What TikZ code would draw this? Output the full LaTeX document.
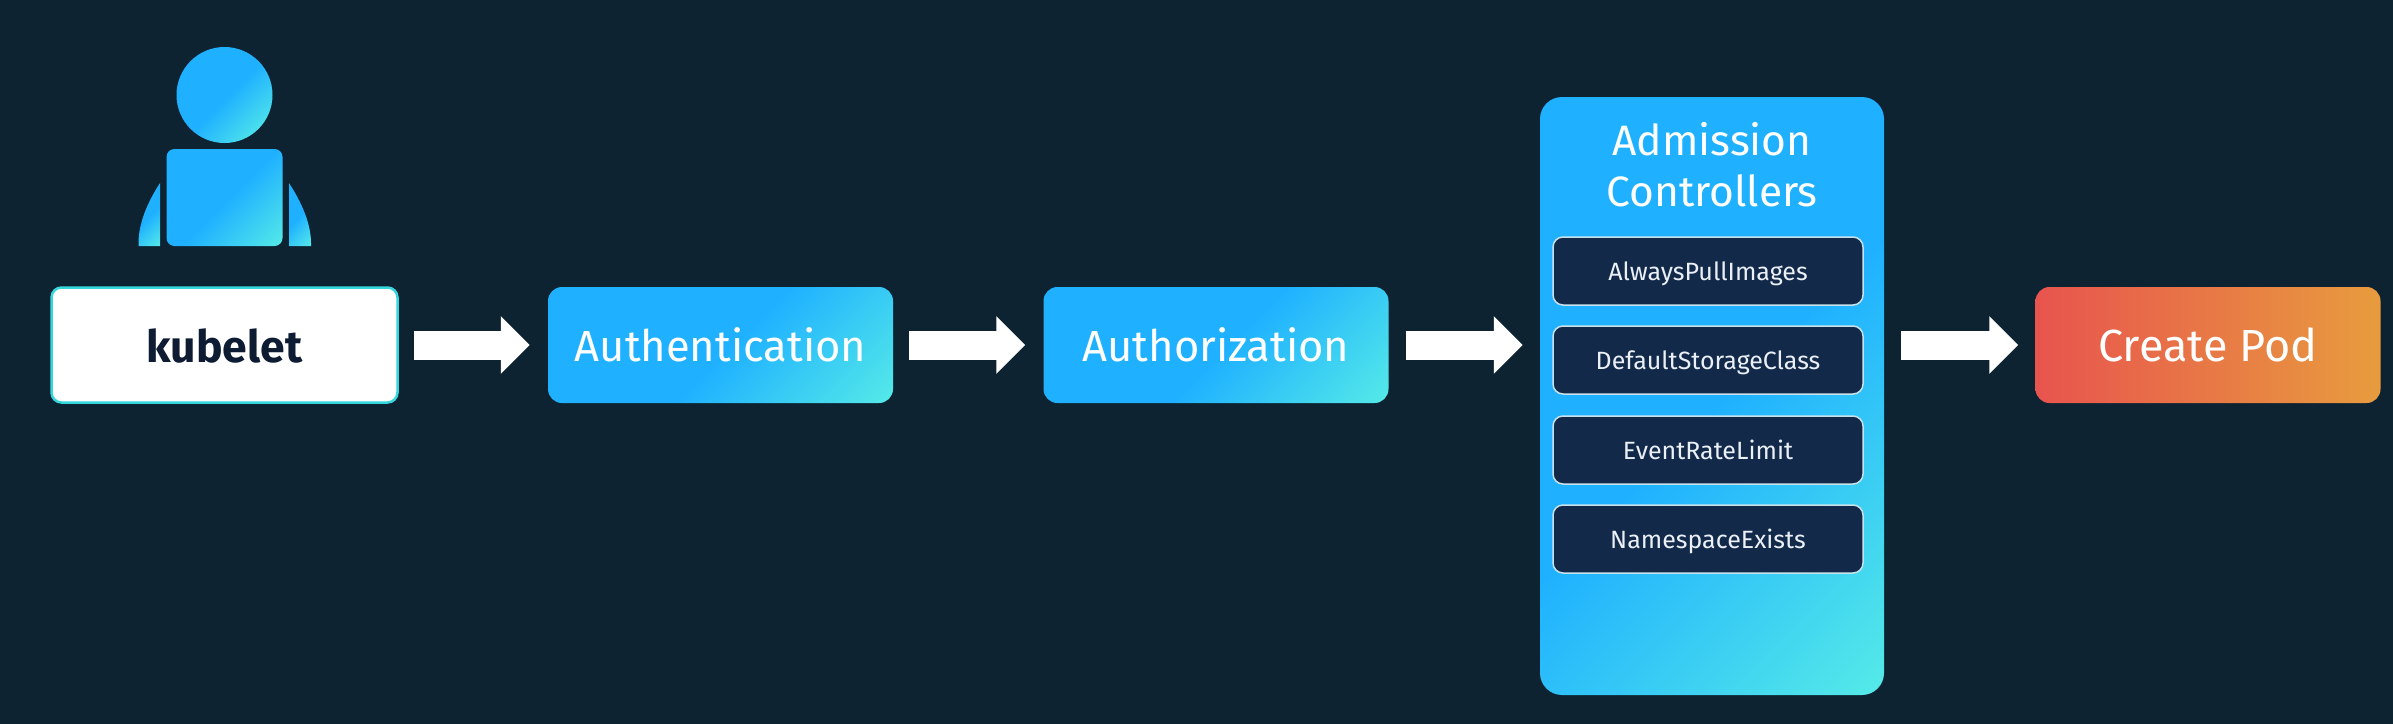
\documentclass[tikz,border=0pt]{standalone}
\usepackage{fontspec}
\setmainfont{Fira Sans}
\usetikzlibrary{arrows.meta,calc}
\definecolor{bgc}{HTML}{0D2332}
\definecolor{gA}{HTML}{1FB1FF}
\definecolor{gB}{HTML}{55EAE8}
\definecolor{inner}{HTML}{12294A}
\definecolor{innerline}{HTML}{C8E2EC}
\definecolor{ink}{HTML}{0D1B33}
\definecolor{innertxt}{HTML}{EAF0F6}
\definecolor{podA}{HTML}{E8544E}
\definecolor{podB}{HTML}{E89C3E}
\definecolor{kubeline}{HTML}{35D6DC}
\pgfdeclarehorizontalshading{bluegrad}{100bp}{color(0bp)=(gA); color(51bp)=(gA); color(67.7bp)=(gB); color(100bp)=(gB)}
\pgfdeclarehorizontalshading{admgrad}{100bp}{color(0bp)=(gA); color(50.5bp)=(gA); color(67.7bp)=(gB); color(100bp)=(gB)}
\tikzset{
  gradfill/.style 2 args={path picture={
    \shade[shading=#1,shading angle=-45]
      ($(path picture bounding box.center)+(-#2/2,-#2/2)$) rectangle ++(#2,#2);}},
  flowbox/.style={rounded corners=14pt,minimum width=345pt,minimum height=116pt,inner sep=0pt,text=white,text height=33pt,text depth=0pt,font=\fontsize{43.5}{43.5}\selectfont},
  subbox/.style={draw=innerline,line width=1.5pt,fill=inner,rounded corners=10pt,minimum width=310pt,minimum height=68pt,inner sep=0pt,text=innertxt,text height=19pt,text depth=0pt,font=\fontsize{25}{25}\selectfont},
  flowarrow/.style={draw=white,line width=29pt,-{Triangle[width=56pt,length=29pt]}},
}
\begin{document}
\begin{tikzpicture}[x=1pt,y=-1pt]
\path[use as bounding box] (0,0) rectangle (2393,723);
\fill[bgc] (-6,-6) rectangle (2399,729);
% person
\node[circle,minimum size=96pt,inner sep=0pt,gradfill={bluegrad}{165}] (head) at (224.5,95) {};
\node[rounded corners=8pt,minimum width=116pt,minimum height=97pt,inner sep=0pt,gradfill={bluegrad}{213}] (body) at (224.5,197.5) {};
\path[gradfill={bluegrad}{85}] (160,183) .. controls (147,203) and (138.5,224) .. (138.5,243) -- (138.5,246) -- (160,246) -- cycle;
\path[gradfill={bluegrad}{85}] (289,183) .. controls (302,203) and (311,224) .. (311,243) -- (311,246) -- (289,246) -- cycle;
% boxes
\node[flowbox,draw=kubeline,line width=2.5pt,fill=white,text=ink,rounded corners=10pt,minimum width=346pt,minimum height=115pt,text height=34pt,font=\fontsize{44.5}{44.5}\selectfont\bfseries] (kubelet) at (224.5,345) {kubelet};
\node[flowbox,gradfill={bluegrad}{461}] (authn) at (720.5,345) {Authentication};
\node[flowbox,gradfill={bluegrad}{461}] (authz) at (1216,345) {Authorization};
\node[rounded corners=22pt,minimum width=344pt,minimum height=598pt,inner sep=0pt,gradfill={admgrad}{942}] (adm) at (1712,396) {};
\node[inner sep=0pt,text=white,align=center,font=\fontsize{42.5}{51}\selectfont] (admt) at (1712,164.5) {Admission\\Controllers};
\node[subbox] (s1) at (1708,271) {AlwaysPullImages};
\node[subbox] (s2) at (1708,360) {DefaultStorageClass};
\node[subbox] (s3) at (1708,450) {EventRateLimit};
\node[subbox] (s4) at (1708,539) {NamespaceExists};
\node[flowbox,left color=podA,right color=podB,font=\fontsize{45}{45}\selectfont] (pod) at (2208,345) {Create Pod};
% arrows
\draw[flowarrow,shorten <=15pt,shorten >=18pt] (kubelet.east) -- (authn.west);
\draw[flowarrow,shorten <=16pt,shorten >=18pt] (authn.east) -- (authz.west);
\draw[flowarrow,shorten <=17pt,shorten >=17pt] (authz.east) -- (authz.east -| adm.west);
\draw[flowarrow,shorten <=17pt,shorten >=17pt] (pod.west -| adm.east) -- (pod.west);
\end{tikzpicture}
\end{document}
